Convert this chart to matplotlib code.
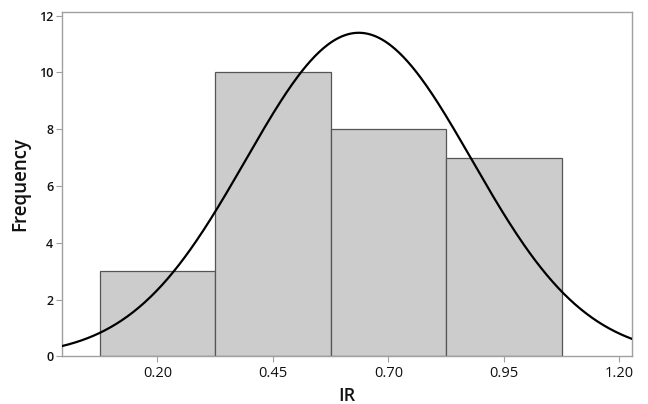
import numpy as np
import matplotlib
matplotlib.use("Agg")
import matplotlib.pyplot as plt

# Data
bin_centers = [0.20, 0.45, 0.70, 0.95]
frequencies = [3, 10, 8, 7]
bin_width = 0.25
fit_mean = 0.636
fit_std = 0.245
x_ticks = [0.20, 0.45, 0.70, 0.95, 1.20]
y_ticks = [0, 2, 4, 6, 8, 10, 12]

plt.rcParams['font.family'] = ['Open Sans', 'DejaVu Sans']

fig = plt.figure(figsize=(6.48, 4.04), dpi=100)
ax = fig.add_axes([0.0952, 0.1176, 0.8806, 0.8534])

ax.bar(bin_centers, frequencies, width=bin_width, color='#cccccc',
       edgecolor='#555555', linewidth=0.9, zorder=2)

xlim = (-0.007, 1.228)
xs = np.linspace(xlim[0], xlim[1], 400)
n = sum(frequencies)
ys = n * bin_width / (fit_std * np.sqrt(2 * np.pi)) * np.exp(-0.5 * ((xs - fit_mean) / fit_std) ** 2)
ax.plot(xs, ys, color='black', linewidth=1.6, zorder=3)

ax.set_xlim(*xlim)
ax.set_ylim(0, 12.14)
ax.set_xticks(x_ticks)
ax.set_xticklabels([f"{t:.2f}" for t in x_ticks], fontsize=10.5, color='#111111')
ax.set_yticks(y_ticks)
ax.set_yticklabels([str(t) for t in y_ticks], fontsize=9, color='#111111', fontweight='semibold')

for s in ax.spines.values():
    s.set_color('#a0a0a0')
    s.set_linewidth(1.0)
ax.tick_params(axis='both', direction='out', length=4, width=0.8, color='#a0a0a0')
ax.tick_params(axis='x', pad=3)
ax.tick_params(axis='y', pad=2)

ax.set_xlabel('IR', fontsize=13, fontweight='semibold', color='#111111', labelpad=4)
ax.set_ylabel('Frequency', fontsize=13.5, fontweight='semibold', color='#111111', labelpad=6)

fig.savefig('out.png', dpi=100)
